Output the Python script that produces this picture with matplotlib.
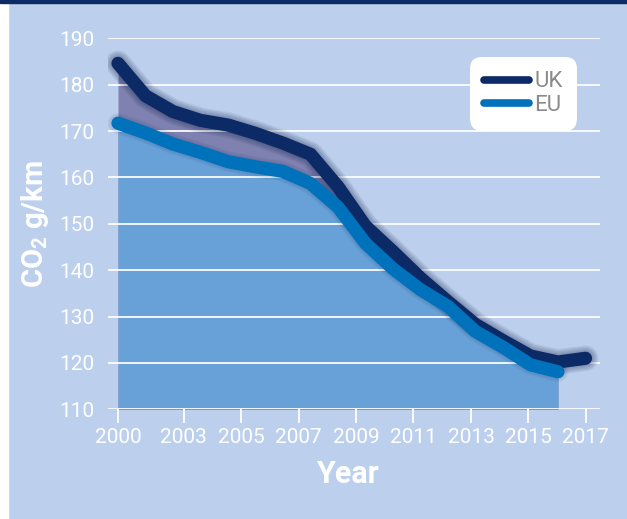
import numpy as np
import matplotlib
matplotlib.use("Agg")
import matplotlib.pyplot as plt
from matplotlib.lines import Line2D
from matplotlib.patches import Rectangle

# ── Data ──────────────────────────────────────────────────────────────────────
years_uk = list(range(2000, 2018))
years_eu = list(range(2000, 2017))

uk_co2 = [184.6, 177.6, 174.2, 172.3, 171.3, 169.5, 167.4, 165.0, 158.0,
          149.5, 144.0, 138.3, 133.2, 128.3, 124.8, 121.5, 120.2, 121.0]
eu_co2 = [171.7, 169.6, 167.2, 165.4, 163.4, 162.3, 161.3, 158.7, 153.6,
          145.8, 140.3, 135.8, 132.2, 126.8, 123.4, 119.6, 118.1]

x_tick_labels = ["2000", "2003", "2005", "2007", "2009", "2011", "2013", "2015", "2017"]
y_ticks = [110, 120, 130, 140, 150, 160, 170, 180, 190]

# ── Style ─────────────────────────────────────────────────────────────────────
BG       = "#bccfec"
NAVY     = "#0b2a66"
EU_BLUE  = "#0071bb"
EU_FILL  = "#68a1d7"
UK_FILL  = "#7f82b0"
WHITE    = "white"
FONT     = ["Roboto", "DejaVu Sans"]

# tick positions as drawn on the original (not evenly one per year)
x_tick_pos = [2000, 2002.39, 2004.47, 2006.57, 2008.65, 2010.74, 2012.84, 2014.92, 2017]

plt.rcParams["font.family"] = FONT

fig = plt.figure(figsize=(6.27, 5.19), dpi=100, facecolor=BG)
fig.patches.append(Rectangle((0, 0), 8 / 627, 1, transform=fig.transFigure,
                             color="white", zorder=0))
fig.patches.append(Rectangle((0, 1 - 3 / 519), 1, 3 / 519, transform=fig.transFigure,
                             color=NAVY, zorder=0))

ax = fig.add_axes([108 / 627, 1 - 409.3 / 519, 492 / 627, 371 / 519])
ax.set_facecolor("none")
for s in ax.spines.values():
    s.set_visible(False)

ax.set_xlim(2000 - 10 / 27.5, 2000 + 482 / 27.5)
ax.set_ylim(110, 190)

# fills
ax.fill_between(years_uk[:len(eu_co2)], uk_co2[:len(eu_co2)], 110,
                color=UK_FILL, lw=0, zorder=1)
ax.fill_between(years_eu, eu_co2, 110, color=EU_FILL, lw=0, zorder=1.2)

# grid
ax.set_axisbelow("line")
ax.set_yticks(y_ticks)
ax.grid(axis="y", color="white", lw=1.4, alpha=0.9)
ax.grid(axis="x", visible=False)

# soft shadows under the lines
for k in range(1, 6):
    ax.plot(years_uk, uk_co2, color="#0a1a45", lw=9.5 + 1.8 * k, alpha=0.07,
            solid_capstyle="round", solid_joinstyle="round", zorder=3)
for k in range(1, 4):
    ax.plot(years_eu, eu_co2, color="#0a2a5a", lw=9.5 + 1.8 * k, alpha=0.05,
            solid_capstyle="round", solid_joinstyle="round", zorder=3.5)

ax.plot(years_uk, uk_co2, color=NAVY, lw=9.5, solid_capstyle="round",
        solid_joinstyle="round", zorder=4)
ax.plot(years_eu, eu_co2, color=EU_BLUE, lw=9.5, solid_capstyle="round",
        solid_joinstyle="round", zorder=5)

# ticks
ax.set_xticks(x_tick_pos)
ax.set_xticklabels(x_tick_labels)
ax.tick_params(axis="x", length=10, width=1.3, color="white", pad=3.5,
               labelsize=15, labelcolor=WHITE)
ax.tick_params(axis="y", length=0, pad=10, labelsize=15, labelcolor=WHITE)

ax.set_ylabel("CO$_{\\mathregular{2}}$ g/km", fontsize=21, fontweight="bold", color=WHITE)
ax.yaxis.set_label_coords(-0.115, 0.5)
ax.set_xlabel("Year", fontsize=22, fontweight="bold", color=WHITE, va="top")
ax.xaxis.set_label_coords(0.486, -0.135)

# legend
handles = [Line2D([], [], color=NAVY, lw=5.5, solid_capstyle="round"),
           Line2D([], [], color=EU_BLUE, lw=5.5, solid_capstyle="round")]
leg = ax.legend(handles, ["UK", "EU"], loc="upper right",
                bbox_to_anchor=(577 / 627, 1 - 57 / 519),
                bbox_transform=fig.transFigure, fontsize=16,
                handlelength=2.0, handletextpad=0.25, labelspacing=0.12,
                borderpad=0.65, frameon=True, fancybox=True, framealpha=1,
                facecolor="white", edgecolor="none", borderaxespad=0)
leg.get_frame().set_boxstyle("round,pad=0,rounding_size=0.55")
leg.set_zorder(10)
for t in leg.get_texts():
    t.set_color("#8a8a8a")

fig.savefig("out.png", dpi=100, facecolor=BG)
